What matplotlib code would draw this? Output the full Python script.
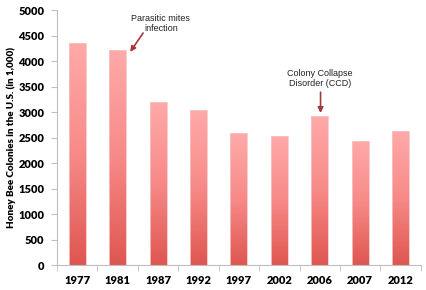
import numpy as np
import matplotlib
matplotlib.use("Agg")
import matplotlib.pyplot as plt
from matplotlib.colors import LinearSegmentedColormap

years = ["1977", "1981", "1987", "1992", "1997", "2002", "2006", "2007", "2012"]
colonies = [4350, 4210, 3190, 3040, 2580, 2530, 2930, 2440, 2620]
yticks = [0, 500, 1000, 1500, 2000, 2500, 3000, 3500, 4000, 4500, 5000]

fig = plt.figure(figsize=(4.27, 2.90), dpi=100)
ax = fig.add_axes([0.1335, 0.0862, 0.852, 0.879])

x = np.arange(len(years))
bars = ax.bar(x, colonies, width=0.42, color="none", edgecolor="#f6c4c4", linewidth=0.6, zorder=3)

# vertical gradient: dark red at bottom, light pink at top
grad_cmap = LinearSegmentedColormap.from_list("bee", ["#df5650", "#f78a88", "#ffaaa9"])
grad = np.linspace(0, 1, 256).reshape(-1, 1)
for b in bars:
    bx, by = b.get_x(), b.get_y()
    w, h = b.get_width(), b.get_height()
    im = ax.imshow(grad, cmap=grad_cmap, origin="lower", aspect="auto",
                   extent=[bx, bx + w, by, by + h], zorder=2)
    im.set_clip_path(b)

ax.set_xlim(-0.5, len(years) - 0.5)
ax.set_ylim(0, 5000)
ax.set_yticks(yticks)
ax.set_xticks(x)
ax.set_xticklabels(years)
ax.set_xticks(np.arange(-0.5, len(years)), minor=True)
ax.tick_params(axis="x", which="major", length=0, pad=7)
ax.tick_params(axis="x", which="minor", length=4, color="#bfbfbf", direction="out")
ax.tick_params(axis="y", length=4, color="#bfbfbf", pad=5)
for lab in ax.get_xticklabels() + ax.get_yticklabels():
    lab.set_fontfamily("Lato")
    lab.set_fontweight("heavy")
    lab.set_fontsize(8)

for s in ["top", "right"]:
    ax.spines[s].set_visible(False)
for s in ["left", "bottom"]:
    ax.spines[s].set_color("#bfbfbf")
    ax.spines[s].set_linewidth(0.8)

ax.set_ylabel("Honey Bee Colonies in the U.S. (in 1,000)", fontfamily="Lato",
              fontweight="heavy", fontsize=7.1, labelpad=2)

# annotations
arrow = dict(arrowstyle="-|>", color="#a3393b", lw=1.2, mutation_scale=8,
             shrinkA=0, shrinkB=0)
txt = dict(ha="center", va="center", fontsize=6.5, fontfamily="Liberation Sans",
           color="#222222", linespacing=1.15)
ax.text(2.07, 4745, "Parasitic mites\ninfection", **txt)
ax.annotate("", xy=(1.31, 4180), xytext=(1.63, 4550), arrowprops=arrow)
ax.text(6.0, 3660, "Colony Collapse\nDisorder (CCD)", **txt)
ax.annotate("", xy=(6.02, 2980), xytext=(6.02, 3390), arrowprops=arrow)

fig.savefig("out.png", dpi=100)
